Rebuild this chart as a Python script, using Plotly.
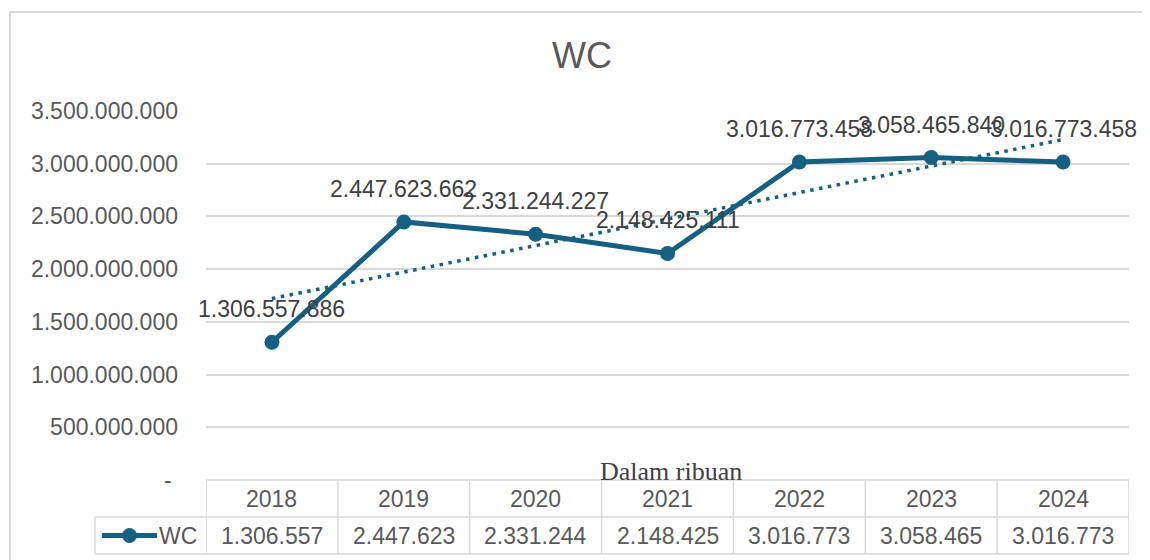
import numpy as np
import plotly.graph_objects as go

# ---- data ----
years = ["2018", "2019", "2020", "2021", "2022", "2023", "2024"]
wc_values = [1306557886, 2447623662, 2331244227, 2148425111, 3016773458, 3058465840, 3016773458]
y_tick_vals = [0, 500000000, 1000000000, 1500000000, 2000000000, 2500000000, 3000000000, 3500000000]
series_name = "WC"
title_text = "WC"
note_text = "Dalam ribuan"

LINE = "#156082"
GRID = "#D9D9D9"
TXT = "#595959"
LBL = "#404040"
FONT = "Liberation Sans"
FS = 23


def dots(n):
    return f"{n:,}".replace(",", ".")


tick_text = ["- " if v == 0 else dots(v) for v in y_tick_vals]
table_text = [dots(v // 1000) for v in wc_values]

# linear trendline (Excel style, x = 1..n)
xi = np.arange(1, len(wc_values) + 1)
slope, intercept = np.polyfit(xi, np.array(wc_values, dtype=float), 1)
trend = slope * xi + intercept
idx = list(range(len(years)))

# ---- layout geometry (page has an 8px body margin) ----
OFF = 8
W, H = 1150 - OFF, 560 - OFF
L, T = 206 - OFF, 111 - OFF
R = W - (1129 - OFF)
B = H - (480 - OFF)
PW, PH = W - L - R, H - T - B


def px_x(x):
    return (x - OFF - L) / PW


def px_y(y):
    return (H - B - (y - OFF)) / PH


fig = go.Figure()
fig.add_trace(go.Scatter(x=idx, y=trend, mode="lines",
                         line=dict(color=LINE, width=3.5, dash="3.5px,5.5px"),
                         hoverinfo="skip", showlegend=False))
fig.add_trace(go.Scatter(x=idx, y=wc_values, mode="lines+markers", name=series_name,
                         line=dict(color=LINE, width=5),
                         marker=dict(color=LINE, size=15),
                         showlegend=False))

annotations = []
# data labels
for i, v in zip(idx, wc_values):
    annotations.append(dict(x=i, y=v, xref="x", yref="y", text=dots(v), showarrow=False,
                            yshift=33, font=dict(family=FONT, size=FS, color=LBL)))

shapes = []
row1_top, row1_bot, row2_bot = px_y(480), px_y(517), px_y(554)
legend_left = px_x(95)
# table horizontal lines
shapes.append(dict(type="line", xref="paper", yref="paper", x0=0, x1=1, y0=row1_top, y1=row1_top,
                   line=dict(color=GRID, width=1.5)))
for yy in (row1_bot, row2_bot):
    shapes.append(dict(type="line", xref="paper", yref="paper", x0=legend_left, x1=1, y0=yy, y1=yy,
                       line=dict(color=GRID, width=1.5)))
# vertical lines at category boundaries
for i in range(len(years) + 1):
    shapes.append(dict(type="line", xref="x", yref="paper", x0=i - 0.5, x1=i - 0.5,
                       y0=row1_top, y1=row2_bot, line=dict(color=GRID, width=1.5)))
shapes.append(dict(type="line", xref="paper", yref="paper", x0=legend_left, x1=legend_left,
                   y0=row1_bot, y1=row2_bot, line=dict(color=GRID, width=1.5)))
# legend key
key_y = (row1_bot + row2_bot) / 2
shapes.append(dict(type="line", xref="paper", yref="paper", x0=px_x(102), x1=px_x(157),
                   y0=key_y, y1=key_y, line=dict(color=LINE, width=5)))
shapes.append(dict(type="circle", xref="paper", yref="paper", xsizemode="pixel", ysizemode="pixel",
                   xanchor=px_x(129.5), yanchor=key_y, x0=-7, x1=7, y0=-7, y1=7,
                   fillcolor=LINE, line=dict(color=LINE, width=1)))
# outer chart border
shapes.append(dict(type="rect", xref="paper", yref="paper", x0=px_x(10), x1=px_x(1165),
                   y0=px_y(575), y1=px_y(12), line=dict(color=GRID, width=2), layer="above"))

# table text
for i, yr, t in zip(idx, years, table_text):
    annotations.append(dict(x=i, y=(row1_top + row1_bot) / 2, xref="x", yref="paper", text=yr,
                            showarrow=False, yanchor="middle",
                            font=dict(family=FONT, size=FS, color=TXT)))
    annotations.append(dict(x=i, y=key_y, xref="x", yref="paper", text=t,
                            showarrow=False, yanchor="middle",
                            font=dict(family=FONT, size=FS, color=TXT)))
annotations.append(dict(x=px_x(199), y=key_y, xref="paper", yref="paper", text=series_name,
                        showarrow=False, xanchor="right", yanchor="middle",
                        font=dict(family=FONT, size=FS, color=TXT)))
annotations.append(dict(x=px_x(671), y=px_y(471), xref="paper", yref="paper", text=note_text,
                        showarrow=False, xanchor="center", yanchor="middle",
                        font=dict(family="Liberation Serif", size=26, color=LBL)))

fig.update_layout(
    width=W, height=H,
    margin=dict(l=L, r=R, t=T, b=B),
    paper_bgcolor="white", plot_bgcolor="white",
    title=dict(text=title_text, x=px_x(582), xref="paper", xanchor="center",
               y=1 - (55 - OFF) / H, yanchor="middle",
               font=dict(family=FONT, size=36, color=TXT)),
    xaxis=dict(range=[-0.5, len(years) - 0.5], showticklabels=False,
               showgrid=False, zeroline=False, showline=False, ticks=""),
    yaxis=dict(range=[0, 3500000000], tickvals=y_tick_vals, ticktext=tick_text,
               showgrid=True, gridcolor=GRID, gridwidth=1.5, zeroline=False, showline=False,
               ticks="", ticklabelstandoff=27,
               tickfont=dict(family=FONT, size=FS, color=TXT)),
    shapes=shapes,
    annotations=annotations,
    showlegend=False,
)

fig.write_html("out.html")
